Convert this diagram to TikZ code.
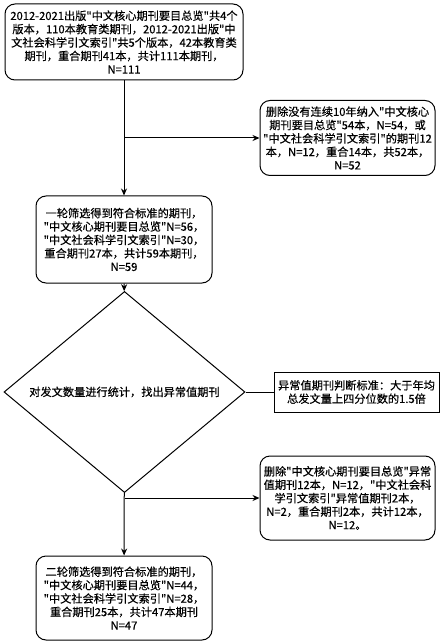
\documentclass[tikz,border=0pt]{standalone}
\usepackage{fontspec}
\setmainfont{Noto Sans CJK SC}[Ligatures=TeXOff, FakeBold=0.5]
\usetikzlibrary{shapes.geometric,arrows.meta}

\begin{document}
\begin{tikzpicture}[x=1pt, y=-1pt]
  \tikzset{every node/.style={align=center,font=\fontsize{11.2}{13.4}\selectfont,inner sep=0pt},
           roundbox/.style={draw,line width=1pt,rounded corners=10pt},
           decision/.style={draw,line width=1pt,diamond,minimum width=241pt,minimum height=102pt},
           notebox/.style={draw,line width=1pt},
           flowarrow/.style={line width=1pt,-{Stealth[length=7pt,width=6pt]}}}
  \useasboundingbox (0,0) rectangle (441,644);
  \node[roundbox, minimum width=238pt, minimum height=76pt] (b1) at (124,42)
       {2012-2021出版"中文核心期刊要目总览"共4个\\版本，110本教育类期刊，2012-2021出版"中\\文社会科学引文索引"共5个版本，42本教育类\\期刊，重合期刊41本，共计111本期刊，\\N=111};
  \node[roundbox, minimum width=175pt, minimum height=75pt] (r1) at (347.5,138)
       {删除没有连续10年纳入"中文核心\\期刊要目总览"54本，N=54，或\\"中文社会科学引文索引"的期刊12\\本，N=12，重合14本，共52本，\\N=52};
  \node[roundbox, minimum width=176pt, minimum height=87pt] (b2) at (124,239.5)
       {一轮筛选得到符合标准的期刊，\\"中文核心期刊要目总览"N=56，\\"中文社会科学引文索引"N=30，\\重合期刊27本，共计59本期刊，\\N=59};
  \node[decision] (d) at (124.5,392) {对发文数量进行统计，找出异常值期刊};
  \node[notebox, minimum width=165pt, minimum height=40pt] (c) at (356.5,392)
       {异常值期刊判断标准：大于年均\\总发文量上四分位数的1.5倍};
  \node[roundbox, minimum width=175pt, minimum height=84pt] (r2) at (347.5,498)
       {删除"中文核心期刊要目总览"异常\\值期刊12本，N=12，"中文社会科\\学引文索引"异常值期刊2本，\\N=2，重合期刊2本，共计12本，\\N=12。};
  \node[roundbox, minimum width=176pt, minimum height=84pt] (b3) at (124,598)
       {二轮筛选得到符合标准的期刊，\\"中文核心期刊要目总览"N=44，\\"中文社会科学引文索引"N=28，\\重合期刊25本，共计47本期刊\\N=47};
  % connectors
  \draw[flowarrow] (b1) -- (b2);
  \draw[flowarrow] (b1 |- r1) -- (r1);
  \draw[flowarrow] (b2) -- (d);
  \draw[line width=1pt] (d.east) -- (c.west);
  \draw[flowarrow] (d) -- (b3);
  \draw[flowarrow] (d |- r2) -- (r2);
\end{tikzpicture}
\end{document}
